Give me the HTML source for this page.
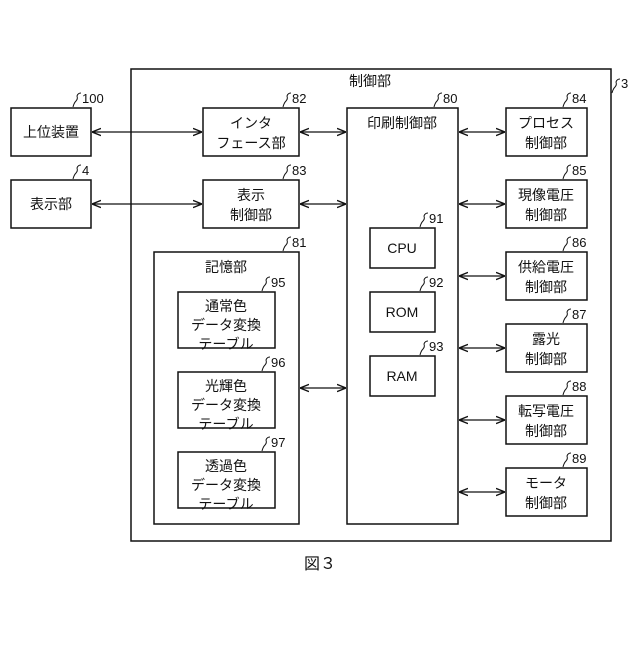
<!DOCTYPE html>
<html><head><meta charset="utf-8"><style>
body{margin:0;background:#fff}
svg text{font-family:"Liberation Sans","Noto Sans CJK JP",sans-serif;fill:#111}
</style></head><body>
<svg width="640" height="640" viewBox="0 0 640 640" xmlns="http://www.w3.org/2000/svg">
<defs>
<marker id="a" viewBox="0 0 10 10" refX="10" refY="5" markerWidth="9" markerHeight="9" orient="auto-start-reverse" markerUnits="userSpaceOnUse"><path d="M0,1 L10,5 L0,9" fill="none" stroke="#111" stroke-width="1.5"/></marker>
</defs>
<g fill="none" stroke="#111" stroke-width="1.5">
<rect x="131" y="69" width="480" height="472"/>
<rect x="11" y="108" width="80" height="48"/>
<rect x="11" y="180" width="80" height="48"/>
<rect x="203" y="108" width="96" height="48"/>
<rect x="203" y="180" width="96" height="48"/>
<rect x="154" y="252" width="145" height="272"/>
<rect x="178" y="292" width="97" height="56"/>
<rect x="178" y="372" width="97" height="56"/>
<rect x="178" y="452" width="97" height="56"/>
<rect x="347" y="108" width="111" height="416"/>
<rect x="370" y="228" width="65" height="40"/>
<rect x="370" y="292" width="65" height="40"/>
<rect x="370" y="356" width="65" height="40"/>
<rect x="506" y="108" width="81" height="48"/>
<rect x="506" y="180" width="81" height="48"/>
<rect x="506" y="252" width="81" height="48"/>
<rect x="506" y="324" width="81" height="48"/>
<rect x="506" y="396" width="81" height="48"/>
<rect x="506" y="468" width="81" height="48"/>
</g>
<g stroke="#111" stroke-width="1.3" marker-start="url(#a)" marker-end="url(#a)">
<line x1="92" y1="132" x2="202" y2="132"/>
<line x1="92" y1="204" x2="202" y2="204"/>
<line x1="300" y1="132" x2="346" y2="132"/>
<line x1="300" y1="204" x2="346" y2="204"/>
<line x1="300" y1="388" x2="346" y2="388"/>
<line x1="459" y1="132" x2="505" y2="132"/>
<line x1="459" y1="204" x2="505" y2="204"/>
<line x1="459" y1="276" x2="505" y2="276"/>
<line x1="459" y1="348" x2="505" y2="348"/>
<line x1="459" y1="420" x2="505" y2="420"/>
<line x1="459" y1="492" x2="505" y2="492"/>
</g>
<g fill="none" stroke="#111" stroke-width="1">
<path d="M73,107 q1,-4 3,-6 q2,-2 1,-5 q1,-3 4,-3"/>
<path d="M73,179 q1,-4 3,-6 q2,-2 1,-5 q1,-3 4,-3"/>
<path d="M283,107 q1,-4 3,-6 q2,-2 1,-5 q1,-3 4,-3"/>
<path d="M283,179 q1,-4 3,-6 q2,-2 1,-5 q1,-3 4,-3"/>
<path d="M283,251 q1,-4 3,-6 q2,-2 1,-5 q1,-3 4,-3"/>
<path d="M262,291 q1,-4 3,-6 q2,-2 1,-5 q1,-3 4,-3"/>
<path d="M262,371 q1,-4 3,-6 q2,-2 1,-5 q1,-3 4,-3"/>
<path d="M262,451 q1,-4 3,-6 q2,-2 1,-5 q1,-3 4,-3"/>
<path d="M434,107 q1,-4 3,-6 q2,-2 1,-5 q1,-3 4,-3"/>
<path d="M420,227 q1,-4 3,-6 q2,-2 1,-5 q1,-3 4,-3"/>
<path d="M420,291 q1,-4 3,-6 q2,-2 1,-5 q1,-3 4,-3"/>
<path d="M420,355 q1,-4 3,-6 q2,-2 1,-5 q1,-3 4,-3"/>
<path d="M563,107 q1,-4 3,-6 q2,-2 1,-5 q1,-3 4,-3"/>
<path d="M563,179 q1,-4 3,-6 q2,-2 1,-5 q1,-3 4,-3"/>
<path d="M563,251 q1,-4 3,-6 q2,-2 1,-5 q1,-3 4,-3"/>
<path d="M563,323 q1,-4 3,-6 q2,-2 1,-5 q1,-3 4,-3"/>
<path d="M563,395 q1,-4 3,-6 q2,-2 1,-5 q1,-3 4,-3"/>
<path d="M563,467 q1,-4 3,-6 q2,-2 1,-5 q1,-3 4,-3"/>
<path d="M612,93 q1,-4 3,-6 q2,-2 1,-5 q1,-3 4,-3"/>
</g>
<g font-size="13">
<text x="82" y="103">100</text>
<text x="82" y="175">4</text>
<text x="292" y="103">82</text>
<text x="292" y="175">83</text>
<text x="292" y="247">81</text>
<text x="271" y="287">95</text>
<text x="271" y="367">96</text>
<text x="271" y="447">97</text>
<text x="443" y="103">80</text>
<text x="429" y="223">91</text>
<text x="429" y="287">92</text>
<text x="429" y="351">93</text>
<text x="572" y="103">84</text>
<text x="572" y="175">85</text>
<text x="572" y="247">86</text>
<text x="572" y="319">87</text>
<text x="572" y="391">88</text>
<text x="572" y="463">89</text>
<text x="621" y="88">3</text>
</g>
<g font-size="14" text-anchor="middle">
<text x="51" y="137">上位装置</text>
<text x="51" y="209">表示部</text>
<text x="251" y="128">インタ</text>
<text x="251" y="148">フェース部</text>
<text x="251" y="200">表示</text>
<text x="251" y="220">制御部</text>
<text x="226" y="272">記憶部</text>
<text x="226" y="311">通常色</text><text x="226" y="330">データ変換</text><text x="226" y="349">テーブル</text>
<text x="226" y="391">光輝色</text><text x="226" y="410">データ変換</text><text x="226" y="429">テーブル</text>
<text x="226" y="471">透過色</text><text x="226" y="490">データ変換</text><text x="226" y="509">テーブル</text>
<text x="370" y="86">制御部</text>
<text x="402" y="128">印刷制御部</text>
<text x="402" y="253">CPU</text>
<text x="402" y="317">ROM</text>
<text x="402" y="381">RAM</text>
<text x="546" y="128">プロセス</text><text x="546" y="148">制御部</text>
<text x="546" y="200">現像電圧</text><text x="546" y="220">制御部</text>
<text x="546" y="272">供給電圧</text><text x="546" y="292">制御部</text>
<text x="546" y="344">露光</text><text x="546" y="364">制御部</text>
<text x="546" y="416">転写電圧</text><text x="546" y="436">制御部</text>
<text x="546" y="488">モータ</text><text x="546" y="508">制御部</text>
<text x="320" y="569" font-size="16">図３</text>
</g>
</svg>
</body></html>
